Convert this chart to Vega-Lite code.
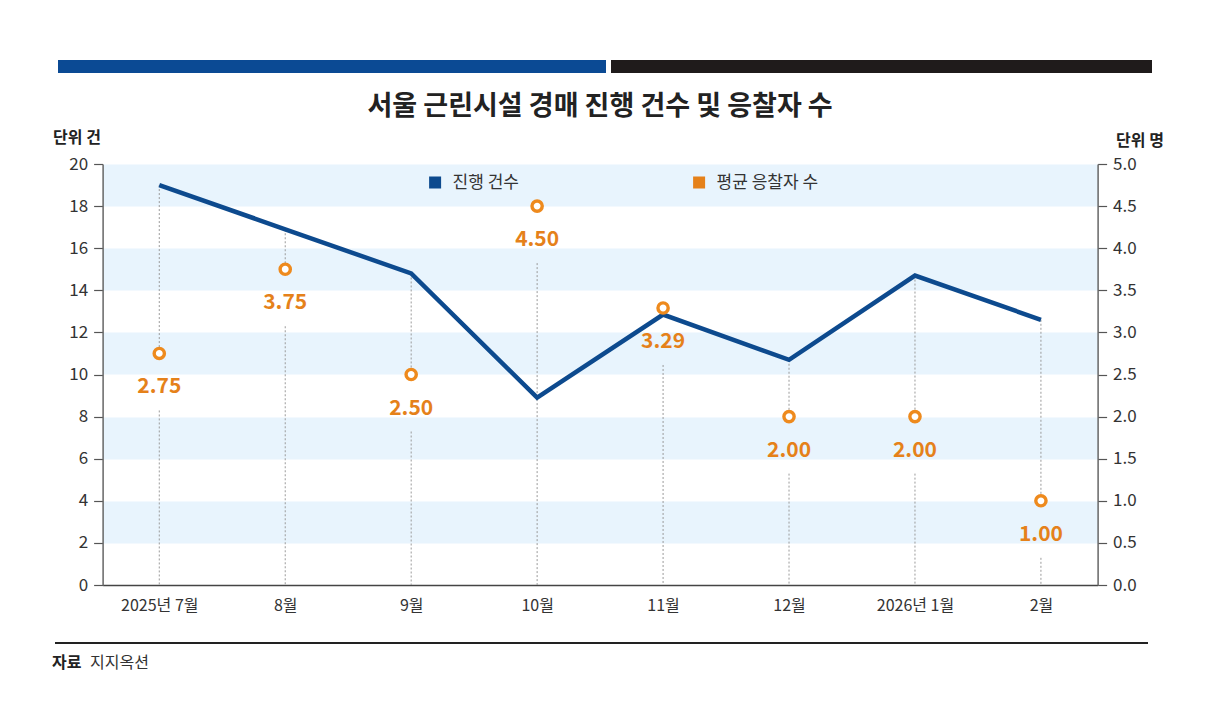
{
  "$schema": "https://vega.github.io/schema/vega-lite/v6.json",
  "padding": {"left": 52, "top": 60, "right": 5, "bottom": 5},
  "background": "white",
  "config": {
    "font": "Noto Sans CJK KR",
    "view": {"stroke": null}
  },
  "columns": 1,
  "center": true,
  "spacing": 20,
  "resolve": {"scale": {"color": "independent", "fill": "independent"}},
  "concat": [
    {
      "spacing": 5,
      "hconcat": [
        {
          "width": 548, "height": 13,
          "view": {"fill": "#0b4a94", "stroke": null},
          "data": {"values": [{}]},
          "mark": "text",
          "encoding": {"text": {"value": ""}}
        },
        {
          "width": 541, "height": 13,
          "view": {"fill": "#1f1b1b", "stroke": null},
          "data": {"values": [{}]},
          "mark": "text",
          "encoding": {"text": {"value": ""}}
        },
        {
          "width": 51, "height": 13,
          "data": {"values": [{}]},
          "mark": "text",
          "encoding": {"text": {"value": ""}}
        }
      ]
    },
    {
      "columns": 1,
      "center": true,
      "spacing": 24,
      "resolve": {"scale": {"color": "independent", "fill": "independent"}},
      "concat": [
        {
          "width": 995,
          "height": 421,
          "title": {
            "text": "서울 근린시설 경매 진행 건수 및 응찰자 수",
            "fontSize": 27,
            "fontWeight": "bold",
            "color": "#222",
            "offset": 8
          },
          "data": {
            "values": [
              {"month": "2025년 7월", "count": 19.0, "avg": 2.75},
              {"month": "8월", "count": 16.9, "avg": 3.75},
              {"month": "9월", "count": 14.8, "avg": 2.5},
              {"month": "10월", "count": 8.9, "avg": 4.5},
              {"month": "11월", "count": 12.85, "avg": 3.29},
              {"month": "12월", "count": 10.7, "avg": 2.0},
              {"month": "2026년 1월", "count": 14.7, "avg": 2.0},
              {"month": "2월", "count": 12.6, "avg": 1.0}
            ]
          },
          "transform": [{"calculate": "datum.avg * 4", "as": "avgLeft"}],
          "encoding": {
            "x": {
              "field": "month",
              "type": "ordinal",
              "sort": null,
              "scale": {"type": "point", "padding": 0.45},
              "axis": {
                "title": null,
                "labelAngle": 0,
                "labelFontSize": 16,
                "labelColor": "#333",
                "labelPadding": 12,
                "ticks": false,
                "domainColor": "#444",
                "domainWidth": 1.5
              }
            }
          },
          "layer": [
            {
              "mark": {"type": "rule", "opacity": 0},
              "encoding": {
                "y": {
                  "field": "count",
                  "type": "quantitative",
                  "scale": {"domain": [0, 20]},
                  "axis": {
                    "orient": "left",
                    "values": [3, 7, 11, 15, 19],
                    "grid": true,
                    "gridWidth": 42.1,
                    "gridColor": "#e8f4fd",
                    "gridOpacity": 1,
                    "labels": false,
                    "ticks": false,
                    "domain": false,
                    "title": null
                  }
                }
              }
            },
            {
              "layer": [
                {
                  "transform": [{"filter": "datum.count > datum.avgLeft"}],
                  "mark": {"type": "rule", "color": "#9a9a9a", "strokeDash": [2, 2], "strokeWidth": 1},
                  "encoding": {
                    "y": {
                      "field": "count",
                      "type": "quantitative",
                      "scale": {"domain": [0, 20]},
                      "axis": {
                        "orient": "left",
                        "values": [0, 2, 4, 6, 8, 10, 12, 14, 16, 18, 20],
                        "grid": false,
                        "title": "단위 건",
                        "titleAngle": 0,
                        "titleAlign": "left",
                        "titleBaseline": "middle",
                        "titleX": -50,
                        "titleY": -27,
                        "titleFontSize": 16,
                        "titleFontWeight": "bold",
                        "titleColor": "#222",
                        "labelFontSize": 17,
                        "labelColor": "#333",
                        "labelPadding": 6,
                        "tickColor": "#555",
                        "tickSize": 9,
                        "tickWidth": 1.2,
                        "domainColor": "#666",
                        "domainWidth": 1.5
                      }
                    },
                    "y2": {"field": "avgLeft"}
                  }
                },
                {
                  "mark": {"type": "rule", "color": "#9a9a9a", "strokeDash": [2, 2], "strokeWidth": 1, "yOffset": 57},
                  "encoding": {
                    "y": {"field": "avgLeft", "type": "quantitative"},
                    "y2": {"datum": 0}
                  }
                },
                {
                  "mark": {"type": "line", "strokeWidth": 4.5},
                  "encoding": {
                    "y": {"field": "count", "type": "quantitative"},
                    "color": {
                      "datum": "진행 건수",
                      "type": "nominal",
                      "scale": {"range": ["#0d4a8e"]},
                      "legend": {
                        "orient": "none",
                        "legendX": 324,
                        "legendY": 10,
                        "direction": "horizontal",
                        "title": null,
                        "labelFontSize": 17,
                        "labelColor": "#333",
                        "labelOffset": 9,
                        "symbolSize": 144,
                        "encode": {
                          "symbols": {
                            "update": {
                              "fill": {"value": "#0d4a8e"},
                              "strokeWidth": {"value": 0},
                              "shape": {"value": "square"}
                            }
                          }
                        }
                      }
                    }
                  }
                }
              ]
            },
            {
              "layer": [
                {
                  "mark": {"type": "point", "filled": false, "fill": "white", "color": "#ee8a1d", "strokeWidth": 3.4, "size": 105, "opacity": 1},
                  "encoding": {
                    "y": {
                      "field": "avg",
                      "type": "quantitative",
                      "scale": {"domain": [0, 5]},
                      "axis": {
                        "orient": "right",
                        "values": [0, 0.5, 1, 1.5, 2, 2.5, 3, 3.5, 4, 4.5, 5],
                        "format": ".1f",
                        "grid": false,
                        "title": "단위 명",
                        "titleAngle": 0,
                        "titleAlign": "left",
                        "titleBaseline": "middle",
                        "titleX": 18,
                        "titleY": -24,
                        "titleFontSize": 16,
                        "titleFontWeight": "bold",
                        "titleColor": "#222",
                        "labelFontSize": 17,
                        "labelColor": "#333",
                        "labelPadding": 6,
                        "tickColor": "#555",
                        "tickSize": 9,
                        "tickWidth": 1.2,
                        "domainColor": "#666",
                        "domainWidth": 1.5
                      }
                    }
                  }
                },
                {
                  "mark": {"type": "text", "dy": 34, "fontSize": 21, "fontWeight": "bold", "baseline": "middle"},
                  "encoding": {
                    "y": {"field": "avg", "type": "quantitative"},
                    "text": {"field": "avg", "type": "quantitative", "format": ".2f"},
                    "fill": {
                      "datum": "평균 응찰자 수",
                      "type": "nominal",
                      "scale": {"range": ["#e5811a"]},
                      "legend": {
                        "orient": "none",
                        "legendX": 588,
                        "legendY": 10,
                        "direction": "horizontal",
                        "title": null,
                        "labelFontSize": 17,
                        "labelColor": "#333",
                        "labelOffset": 9,
                        "symbolType": "square",
                        "symbolSize": 144,
                        "symbolStrokeWidth": 0
                      }
                    }
                  }
                }
              ]
            }
          ],
          "resolve": {"scale": {"y": "independent"}}
        },
        {
          "columns": 1,
          "spacing": 6,
          "concat": [
            {
              "spacing": 0,
              "hconcat": [
                {
                  "width": 1093, "height": 2,
                  "view": {"fill": "#222", "stroke": null},
                  "data": {"values": [{}]},
                  "mark": "text",
                  "encoding": {"text": {"value": ""}}
                },
                {
                  "width": 63, "height": 2,
                  "data": {"values": [{}]},
                  "mark": "text",
                  "encoding": {"text": {"value": ""}}
                }
              ]
            },
            {
              "width": 1156, "height": 18,
              "data": {"values": [{}]},
              "encoding": {
                "x": {"datum": 0, "type": "quantitative", "scale": {"domain": [0, 1]}, "axis": null}
              },
              "layer": [
                {
                  "mark": {"type": "text", "align": "left", "baseline": "middle", "fontSize": 16, "fontWeight": "bold", "color": "#222", "dx": -3},
                  "encoding": {"text": {"value": "자료"}}
                },
                {
                  "mark": {"type": "text", "align": "left", "baseline": "middle", "fontSize": 16, "color": "#333", "dx": 35},
                  "encoding": {"text": {"value": "지지옥션"}}
                }
              ]
            }
          ]
        }
      ]
    }
  ]
}
